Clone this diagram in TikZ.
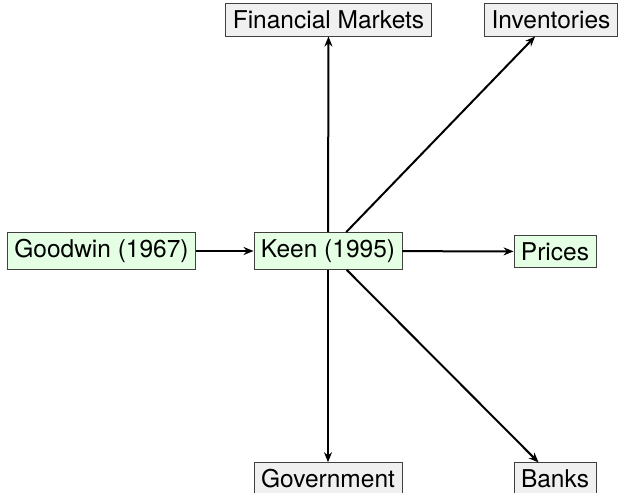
\documentclass[tikz,border=0pt]{standalone}
\usepackage{fontspec}
\setmainfont{TeX Gyre Heros}
\usetikzlibrary{arrows.meta}

\tikzset{model/.style={draw=black!75, line width=0.8pt, fill=green!10, inner sep=7pt},
topic/.style={draw=black!75, line width=0.8pt, fill=black!6, inner sep=7pt},
link/.style={line width=2pt, -{Stealth[length=10pt,width=8pt]}}}

\begin{document}
\begin{tikzpicture}[x=1pt, y=1pt, font=\fontsize{24.5}{29}\selectfont]
\useasboundingbox (0,0) rectangle (619,493);

%les modeles
\node[model] (goodwin) at (101.5,242) {Goodwin (1967)};
\node[model] (keen) at (328,242) {Keen (1995)};
\node[model] (prices) at (555,241.5) {Prices};

%les extensions
\node[topic] (finance) at (328.5,473) {Financial Markets};
\node[topic] (stocks) at (551,473) {Inventories};
\node[topic] (govt) at (328,14) {Government};
\node[topic] (banks) at (555,14) {Banks};

\draw[link] (goodwin)--(keen);
\foreach \t in {prices,finance,stocks,govt,banks}
{\draw[link] (keen)--(\t);}

\end{tikzpicture}
\end{document}
